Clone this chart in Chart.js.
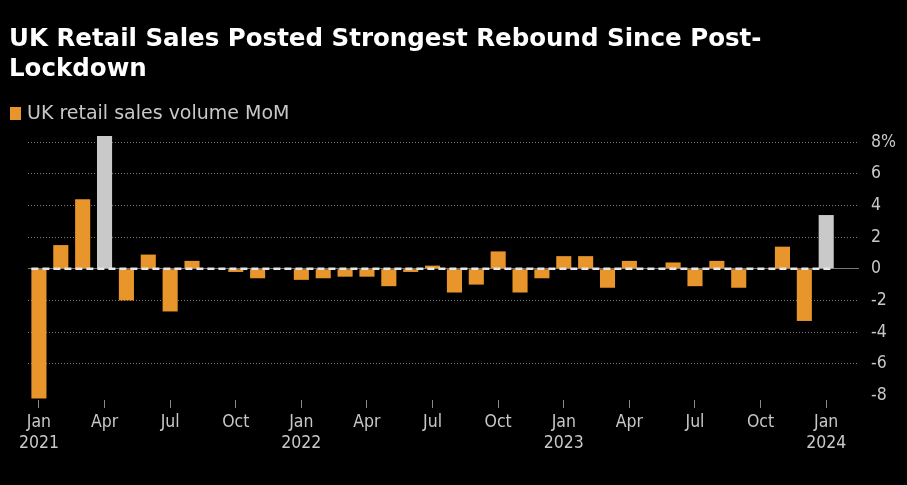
<!DOCTYPE html>
<html>
<head>
<meta charset="utf-8">
<script src="https://cdn.jsdelivr.net/npm/chart.js@4"></script>
<style>
  html, body { margin: 0; padding: 0; background: #000; }
  #wrap { position: relative; width: 907px; height: 485px; background: #000; overflow: hidden; }
  #title { position: absolute; left: 9px; top: 23px; width: 890px; color: #fff;
           font: bold 24.5px "DejaVu Sans", sans-serif; line-height: 30px; }
  #legend { position: absolute; left: 10px; top: 101px; color: #c8c8c8;
            font: 19px "DejaVu Sans", sans-serif; }
  #legend span { display: inline-block; width: 11px; height: 13px; background: #e8952b;
                 vertical-align: -1px; margin-right: 6px; }
  canvas { position: absolute; left: 0; top: 0; }
</style>
</head>
<body>
<div id="wrap">
  <canvas id="myChart" width="907" height="485"></canvas>
  <div id="title">UK Retail Sales Posted Strongest Rebound Since Post-<br>Lockdown</div>
  <div id="legend"><span></span>UK retail sales volume MoM</div>
</div>
<script>
const categories = [
  'Jan 2021','Feb 2021','Mar 2021','Apr 2021','May 2021','Jun 2021','Jul 2021','Aug 2021','Sep 2021','Oct 2021','Nov 2021','Dec 2021',
  'Jan 2022','Feb 2022','Mar 2022','Apr 2022','May 2022','Jun 2022','Jul 2022','Aug 2022','Sep 2022','Oct 2022','Nov 2022','Dec 2022',
  'Jan 2023','Feb 2023','Mar 2023','Apr 2023','May 2023','Jun 2023','Jul 2023','Aug 2023','Sep 2023','Oct 2023','Nov 2023','Dec 2023',
  'Jan 2024','Feb 2024'
];
const salesMoM = [
  -8.2, 1.5, 4.4, 8.4, -2.0, 0.9, -2.7, 0.5, 0, -0.2, -0.6, 0,
  -0.7, -0.6, -0.5, -0.5, -1.1, -0.2, 0.2, -1.5, -1.0, 1.1, -1.5, -0.6,
  0.8, 0.8, -1.2, 0.5, 0, 0.4, -1.1, 0.5, -1.2, 0, 1.4, -3.3,
  3.4, null
];
const highlighted = ['Apr 2021', 'Jan 2024'];
const tickMonths = ['Jan', 'Apr', 'Jul', 'Oct'];
const yTicks = [-8, -6, -4, -2, 0, 2, 4, 6, 8];

const orange = '#e8952b';
const grey = '#c9c9c9';
const font = '"DejaVu Sans Condensed", "DejaVu Sans", sans-serif';

// white dashed zero line drawn over the bars
const zeroLine = {
  id: 'zeroLine',
  afterDatasetsDraw(chart) {
    const ctx = chart.ctx;
    const y = chart.scales.y.getPixelForValue(0);
    const bars = chart.getDatasetMeta(0).data;
    const first = bars[0];
    const last = bars[salesMoM.length - 2];
    ctx.save();
    ctx.strokeStyle = '#e6e6e6';
    ctx.lineWidth = 2.5;
    ctx.setLineDash([7, 4]);
    ctx.beginPath();
    ctx.moveTo(first.x - first.width / 2, y);
    ctx.lineTo(last.x + last.width / 2, y);
    ctx.stroke();
    ctx.restore();
  }
};

function tickLabel(i) {
  const [m, yr] = categories[i].split(' ');
  if (!tickMonths.includes(m)) return '';
  return m === 'Jan' ? [m, yr] : m;
}

const ctx = document.getElementById('myChart').getContext('2d');
const myChart = new Chart(ctx, {
  type: 'bar',
  data: {
    labels: categories,
    datasets: [{
      label: 'UK retail sales volume MoM',
      data: salesMoM,
      backgroundColor: categories.map(c => highlighted.includes(c) ? grey : orange),
      barPercentage: 0.69,
      categoryPercentage: 1
    }]
  },
  plugins: [zeroLine],
  options: {
    responsive: false,
    animation: false,
    layout: { padding: { left: 28, top: 136, right: 0, bottom: 0 } },
    plugins: { legend: { display: false }, tooltip: { enabled: false } },
    scales: {
      x: {
        offset: true,
        border: { display: false },
        grid: {
          offset: false,
          drawOnChartArea: false,
          drawTicks: true,
          tickLength: 8,
          color: c => tickLabel(c.index) ? '#8a8a8a' : 'transparent'
        },
        ticks: {
          autoSkip: false,
          maxRotation: 0,
          padding: 4,
          color: '#c8c8c8',
          font: { family: font, size: 17.5 },
          callback: (v, i) => tickLabel(i)
        },
        afterFit: s => { s.height = 85; }
      },
      y: {
        position: 'right',
        min: -8.3,
        max: 8.4,
        border: { display: false, dash: c => c.tick && c.tick.value === 0 ? [] : [1, 2] },
        afterBuildTicks: axis => { axis.ticks = yTicks.map(v => ({ value: v })); },
        grid: {
          drawTicks: false,
          color: c => c.tick.value === 0 ? '#777' : (c.tick.value === -8 ? 'transparent' : '#7a7a7a'),
          lineWidth: 1
        },
        ticks: {
          padding: 12,
          color: '#c8c8c8',
          font: { family: font, size: 17.5 },
          callback: v => v === 8 ? '8%' : v
        },
        afterFit: s => { s.width = 48; }
      }
    }
  }
});
</script>
</body>
</html>
